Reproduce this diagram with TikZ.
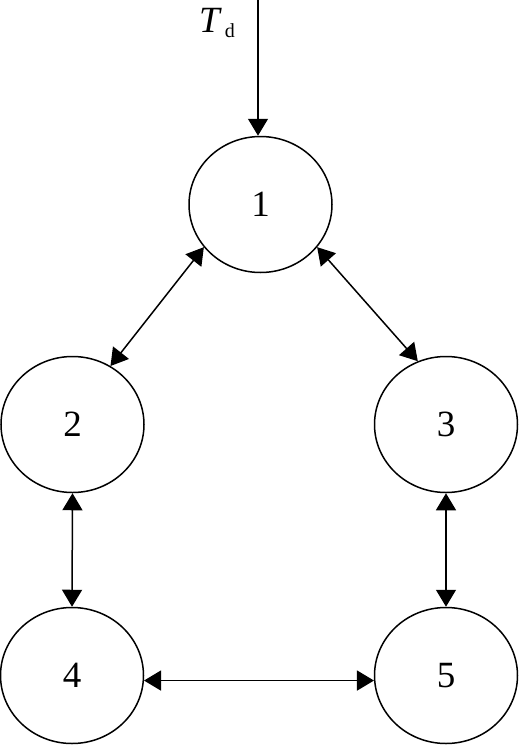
\documentclass[tikz,border=0pt]{standalone}
\usepackage{fontspec}
\setmainfont{Liberation Serif}
\usetikzlibrary{arrows.meta,shapes.geometric}
\begin{document}
\begin{tikzpicture}[x=1pt,y=-1pt,
  state/.style={draw,ellipse,line width=1.5pt,minimum width=143pt,minimum height=136pt,inner sep=0pt,font=\fontsize{37}{37}\selectfont},
  link/.style={line width=1.5pt,{Triangle[length=17pt,width=20pt]}-{Triangle[length=17pt,width=20pt]}},
  feed/.style={line width=1.5pt,-{Triangle[length=17pt,width=20pt]}}]
\useasboundingbox (0,0) rectangle (519,745);
\node[state] (n1) at (260.5,204.5) {1};
\node[state] (n2) at (72.5,424.5) {2};
\node[state] (n3) at (446,424.5) {3};
\node[state] (n4) at (72,675.5) {4};
\node[state] (n5) at (446,675.5) {5};
\coordinate (top) at (258,0);
\node[anchor=base west,inner sep=0pt,font=\fontsize{37}{37}\selectfont] (td) at (199,32) {\itshape T\/\upshape\kern3pt\raisebox{-5pt}{\fontsize{20}{20}\selectfont d}};
\draw[feed] (top) -- (top |- n1.north);
\draw[link] (n1.217) -- (n2.57);
\draw[link] (n1.323) -- (n3.114);
\draw[link] (n2.south) -- (n4.north);
\draw[link] (n3.south) -- (n5.north);
\draw[link] (n4.-4) -- (n5.184);
\end{tikzpicture}
\end{document}
